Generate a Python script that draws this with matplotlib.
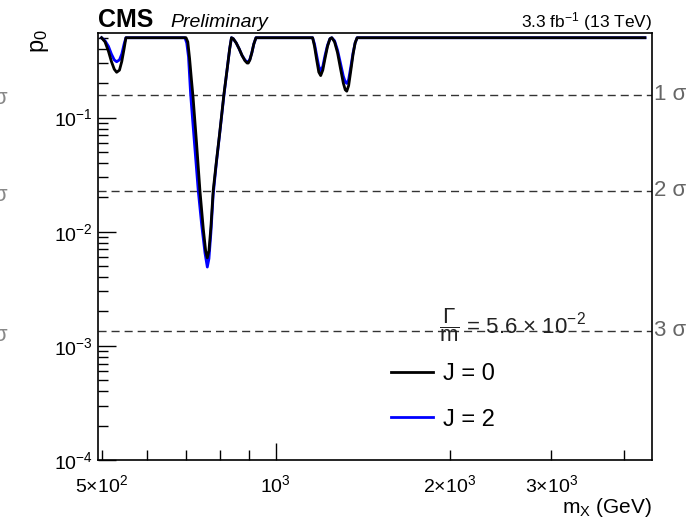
import matplotlib
matplotlib.use("Agg")
from matplotlib import pyplot as plt
from matplotlib.ticker import FixedLocator, FixedFormatter, NullFormatter

plt.rcParams['font.family'] = ['Liberation Sans', 'DejaVu Sans']
plt.rcParams['mathtext.fontset'] = 'custom'
plt.rcParams['mathtext.rm'] = 'Liberation Sans'
plt.rcParams['mathtext.it'] = 'Liberation Sans:italic'
plt.rcParams['mathtext.bf'] = 'Liberation Sans:bold'

# local p-value scan
mass_j0 = [500, 507, 514, 520, 526, 531, 537, 542, 547, 551,
           700, 705, 710, 715, 720, 730, 740, 750, 757, 762, 767, 773, 780, 790, 800, 814, 825, 833, 839,
           845, 855, 865, 875, 885, 893, 897, 903, 910, 917, 925,
           1159, 1168, 1178, 1188, 1197, 1207, 1218, 1230, 1242, 1251,
           1265, 1280, 1295, 1310, 1320, 1328, 1338, 1350, 1362, 1373, 1384,
           4356]
p0_j0 = [0.5, 0.46, 0.38, 0.31, 0.265, 0.249, 0.26, 0.31, 0.40, 0.5,
         0.5, 0.46, 0.33, 0.22, 0.15, 0.06, 0.0228, 0.0105, 0.0068, 0.0059, 0.0068, 0.011, 0.0228, 0.041, 0.071, 0.159, 0.27, 0.40, 0.5,
         0.49, 0.45, 0.40, 0.35, 0.315, 0.30, 0.30, 0.32, 0.37, 0.44, 0.5,
         0.5, 0.42, 0.32, 0.25, 0.233, 0.26, 0.33, 0.42, 0.49, 0.5,
         0.46, 0.37, 0.27, 0.20, 0.175, 0.170, 0.19, 0.26, 0.36, 0.45, 0.5,
         0.5]

mass_j2 = [500, 507, 514, 520, 526, 531, 537, 542, 547, 551,
           697, 702, 707, 713, 720, 728, 735, 745, 755, 762, 767, 773, 780, 790, 800, 814, 825, 833, 839,
           845, 855, 865, 875, 885, 893, 897, 903, 910, 917, 925,
           1159, 1168, 1178, 1188, 1197, 1207, 1218, 1230, 1242, 1251,
           1265, 1280, 1295, 1310, 1320, 1328, 1338, 1350, 1362, 1373, 1384,
           4356]
p0_j2 = [0.5, 0.47, 0.42, 0.36, 0.32, 0.308, 0.32, 0.36, 0.44, 0.5,
         0.5, 0.45, 0.34, 0.16, 0.085, 0.042, 0.0228, 0.0115, 0.0065, 0.0049, 0.0058, 0.0098, 0.021, 0.040, 0.070, 0.155, 0.27, 0.40, 0.5,
         0.49, 0.45, 0.40, 0.35, 0.32, 0.305, 0.305, 0.325, 0.37, 0.44, 0.5,
         0.5, 0.44, 0.35, 0.28, 0.257, 0.28, 0.35, 0.43, 0.49, 0.5,
         0.47, 0.39, 0.30, 0.23, 0.205, 0.199, 0.215, 0.28, 0.37, 0.45, 0.5,
         0.5]

sigma_p = [0.1587, 0.02275, 0.00135]
sigma_labels = ["1 σ", "2 σ", "3 σ"]

xticks_lab = [500, 2000, 3000]
xticks_lab_text = [r"5$\times$10$^{2}$", r"2$\times$10$^{3}$", r"3$\times$10$^{3}$"]
xticks_minor = [500, 600, 700, 800, 900, 2000, 3000, 4000]

fig = plt.figure(figsize=(6.94, 5.18), dpi=100)
ax = fig.add_axes([98/694, 1-460/518, 554/694, 427/518])

ax.plot(mass_j2, p0_j2, color=(0, 0, 1), lw=2, label="J = 2", zorder=3)
ax.plot(mass_j0, p0_j0, color="black", lw=2, label="J = 0", zorder=4)

ax.set_xscale("log")
ax.set_yscale("log")
ax.set_xlim(493, 4480)
ax.set_ylim(1e-4, 0.55)

for p, lab in zip(sigma_p, sigma_labels):
    ax.axhline(p, color="#333333", lw=1, dashes=(5.8, 3.6), zorder=2)
    ax.text(1.004, p, lab, transform=ax.get_yaxis_transform(), va="center", ha="left",
            fontsize=16, color="#666666")
    # cut-off copies at the left edge of the picture
    fig.text(0.0, ax.transData.transform((1000, p))[1] / 518 - 0.008, "σ", ha="center", va="center",
             fontsize=16, color="#888888")

ax.xaxis.set_major_locator(FixedLocator([1000]))
ax.xaxis.set_major_formatter(FixedFormatter([r"10$^{3}$"]))
ax.xaxis.set_minor_locator(FixedLocator(xticks_minor))
ax.xaxis.set_minor_formatter(FixedFormatter(
    [xticks_lab_text[xticks_lab.index(v)] if v in xticks_lab else "" for v in xticks_minor]))
ax.tick_params(axis="x", which="both", direction="in", labelsize=14, pad=10, top=False)
ax.tick_params(axis="x", which="major", length=12, width=1)
ax.tick_params(axis="x", which="minor", length=7, width=1)
ax.tick_params(axis="y", which="both", direction="in", labelsize=14, right=False)
ax.tick_params(axis="y", which="major", length=13, width=1)
ax.tick_params(axis="y", which="minor", length=7, width=1)
ax.yaxis.set_minor_formatter(NullFormatter())
for s in ax.spines.values():
    s.set_linewidth(1.2)

ax.set_xlabel(r"m$_{\mathrm{X}}$ (GeV)", fontsize=15, loc="right", labelpad=0)
ax.set_ylabel(r"p$_{0}$", fontsize=17, loc="top")
ax.yaxis.set_label_coords(-0.085, 1.01)

fig.text(98/694, 1-27/518, "CMS", fontsize=18, fontweight="bold", ha="left", va="baseline")
fig.text(170/694, 1-27/518, "Preliminary", fontsize=14, style="italic", ha="left", va="baseline")
fig.text(652/694, 1-27/518, r"3.3 fb$^{-1}$ (13 TeV)", fontsize=12.5, ha="right", va="baseline")

ax.text(0.615, 0.316, r"$\dfrac{\Gamma}{\mathrm{m}}$ = 5.6 $\times$ 10$^{-2}$", transform=ax.transAxes,
        fontsize=16, ha="left", va="center", color="#222222")

handles, labels = ax.get_legend_handles_labels()
ax.legend(handles[::-1], labels[::-1], loc="center left", bbox_to_anchor=(0.49, 0.148),
          frameon=False, fontsize=17, handlelength=1.8, labelspacing=1.0, handletextpad=0.4)

fig.savefig("out.png", dpi=100)
